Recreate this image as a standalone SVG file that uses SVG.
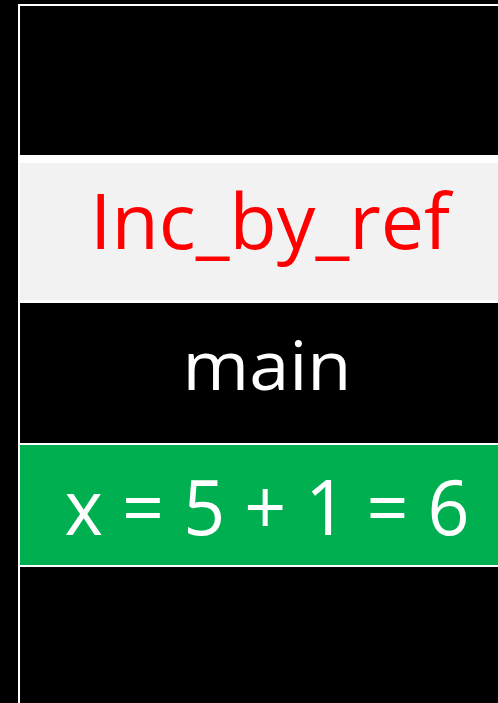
<svg xmlns="http://www.w3.org/2000/svg" width="498" height="703" viewBox="0 0 498 703">
<style>
.lbl{font-family:"Open Sans","Liberation Sans",sans-serif;text-anchor:middle}
.sep{fill:#ffffff}
</style>
<rect x="0" y="0" width="498" height="703" fill="#000000"/>
<g id="frame">
<rect class="sep" x="18" y="4" width="480" height="2"/>
<rect class="sep" x="18" y="4" width="2" height="699"/>
</g>
<g id="top-frame">
<rect x="20" y="6" width="478" height="149" fill="#000000"/>
</g>
<g id="inc-by-ref">
<rect class="sep" x="20" y="155" width="478" height="148"/>
<rect x="20" y="163" width="478" height="137" fill="#f2f2f2"/>
<text class="lbl" x="270" y="249" font-size="76" fill="#ff0000" textLength="360" lengthAdjust="spacingAndGlyphs">Inc_by_ref</text>
</g>
<g id="main">
<rect x="20" y="303" width="478" height="140" fill="#000000"/>
<rect class="sep" x="20" y="443" width="478" height="2"/>
<text class="lbl" x="267" y="390" font-size="68" fill="#ffffff" textLength="169" lengthAdjust="spacingAndGlyphs">main</text>
</g>
<g id="x-value">
<rect x="20" y="445" width="478" height="120" fill="#00b050"/>
<rect class="sep" x="20" y="565" width="478" height="2"/>
<text class="lbl" x="267" y="535" font-size="76" fill="#ffffff" textLength="405" lengthAdjust="spacingAndGlyphs">x = 5 + 1 = 6</text>
</g>
<g id="connectors"></g>
</svg>
